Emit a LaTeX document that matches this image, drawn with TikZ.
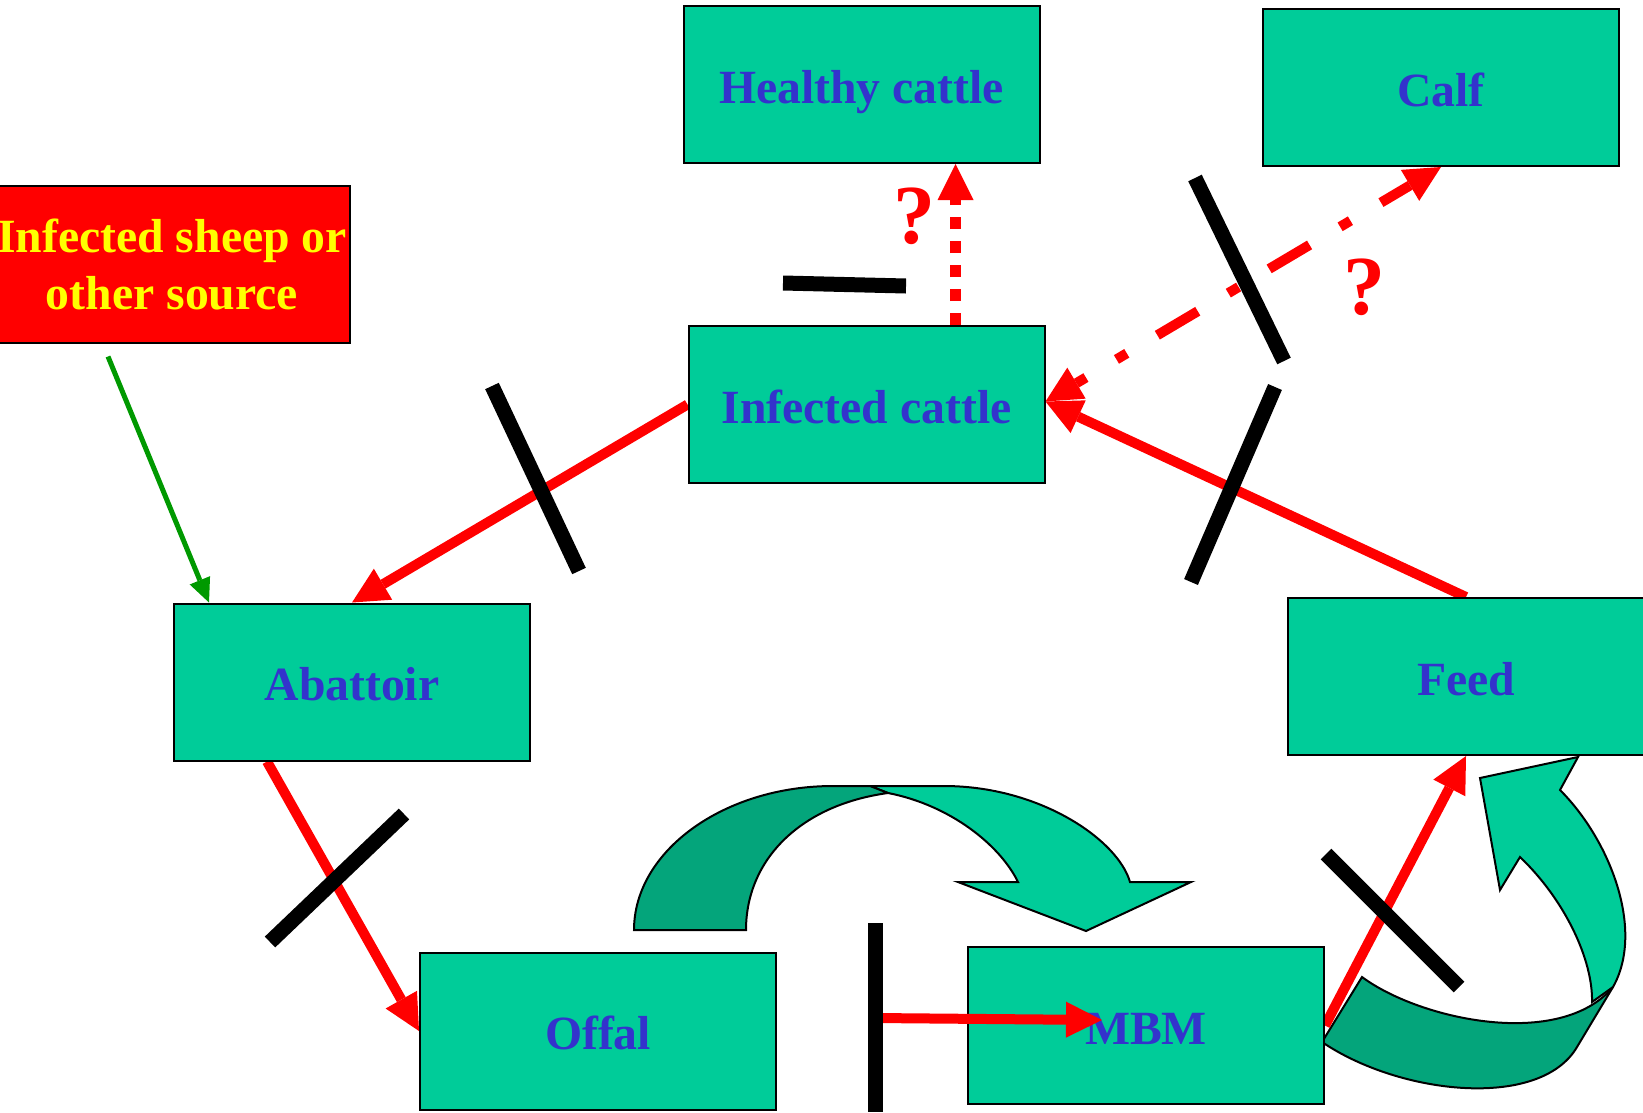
\documentclass[tikz,border=0pt]{standalone}
\usepackage{fontspec}
\setmainfont{Liberation Serif}
\usetikzlibrary{arrows.meta,calc}
\pgfdeclarelayer{background}
\pgfsetlayers{background,main}

\definecolor{boxgreen}{HTML}{00CC99}
\definecolor{backgreen}{HTML}{04A57B}
\definecolor{labelblue}{HTML}{3333CC}
\definecolor{flowred}{HTML}{FF0000}
\definecolor{srcyellow}{HTML}{FFFF00}
\definecolor{feedgreen}{HTML}{009900}

\begin{document}
\begin{tikzpicture}[x=1pt,y=-1pt,
  boxbase/.style={draw=black,line width=2pt,fill=boxgreen,minimum width=356pt,
    minimum height=157pt,inner sep=0pt,text=labelblue,align=center,
    font=\fontsize{47.7pt}{57pt}\selectfont\bfseries},
  box/.style={boxbase,text height=43pt,text depth=6pt},
  srcbox/.style={boxbase,fill=flowred,text=srcyellow},
  redtip/.tip={Triangle[length=36pt,width=36pt,line width=0pt]},
  flow/.style={draw=flowred,line width=10pt,-redtip},
  maybe/.style={flow,line width=11pt,dash pattern=on 12pt off 12pt},
  maybeboth/.style={flow,redtip-redtip,
    dash pattern=on 47pt off 35.5pt on 12pt off 35.5pt,dash phase=36pt},
  spread/.style={draw=feedgreen,line width=5pt,
    -{Triangle[length=24pt,width=22pt,line width=0pt]}},
  barrier/.style={draw=black,line width=15pt},
  ribbon/.style={draw=black,line width=2pt},
  query/.style={text=flowred,inner sep=0pt,
    font=\fontsize{84pt}{84pt}\selectfont\bfseries},
]
\useasboundingbox (0,0) rectangle (1643,1112);

% boxes
\node[box]    (hc)   at (861.5,84.5)  {Healthy cattle};
\node[box]    (calf) at (1441,87.5)   {Calf};
\node[srcbox] (src)  at (172,264)     {Infected sheep or\\other source};
\node[box]    (ic)   at (866.5,404.5) {Infected cattle};
\node[box]    (ab)   at (352,682)     {Abattoir};
\node[box]    (fd)   at (1466,676.5)  {Feed};
\node[box]    (of)   at (598,1031)    {Offal};
\node[box]    (mbm)  at (1146,1025.5) {MBM};

\begin{pgfonlayer}{background}
  % rendering loop: offal -> MBM
  \filldraw[ribbon,fill=boxgreen] (870,786) -- (944,786)
    .. controls (1040,786) and (1118,840) .. (1130,882) -- (1191,882)
    -- (1086,931) -- (958,882) -- (1018,882)
    .. controls (1000,845) and (950,805) .. (888,793) -- cycle;
  \filldraw[ribbon,fill=backgreen] (634,930)
    .. controls (634,851) and (724,786) .. (833,786) -- (870,786) -- (888,793)
    .. controls (800,805) and (746,860) .. (746,930) -- cycle;

  % recycling loop: MBM -> feed
  \filldraw[ribbon,fill=boxgreen] (1592,1002)
    .. controls (1593,960) and (1565,900) .. (1520,857) -- (1500,890)
    -- (1480,778) -- (1578,757) -- (1560,790)
    .. controls (1610,840) and (1645,930) .. (1613,987) -- cycle;
  \filldraw[ribbon,fill=backgreen] (1322,1042) -- (1362,977)
    .. controls (1420,1020) and (1560,1050) .. (1613,987) -- (1577,1047)
    .. controls (1540,1110) and (1400,1095) .. (1322,1042) -- cycle;

  % transmission routes
  \draw[spread] ([xshift=-64pt,yshift=-13pt]src.south) -- ([xshift=36pt]ab.north west);
  \draw[flow] (ic.west) -- (ab.north);
  \draw[flow] ([xshift=-85pt]ab.south) -- (of.west);
  \draw[flow] (mbm.east) -- (fd.south);
  \draw[flow] (fd.north) -- ([yshift=3pt]ic.east);
  \draw[maybeboth] ([yshift=3pt]ic.east) -- (calf.south);
  \draw[maybe] ([xshift=89pt]ic.north) -- ([xshift=89pt]ic.north |- hc.south);
\end{pgfonlayer}

% offal into MBM
\coordinate (omfrom) at (875,1018);
\coordinate (omto)   at (1102,1020);
\draw[flow] (omfrom) -- (omto);

% control barriers
\draw[barrier] (492,386) -- (579,571);
\draw[barrier] (270,942) -- (404,814);
\draw[barrier] (875,923) -- (875,1112);
\draw[barrier] (1326,854) -- (1459,987);
\draw[barrier] (1275,387) -- (1191,582);
\draw[barrier] (1195,178) -- (1284,361);
\draw[barrier] (783,283) -- (906,286);

% uncertain routes
\node[query] (q1) at (914.5,216) {?};
\node[query] (q2) at (1364,287) {?};
\end{tikzpicture}
\end{document}
